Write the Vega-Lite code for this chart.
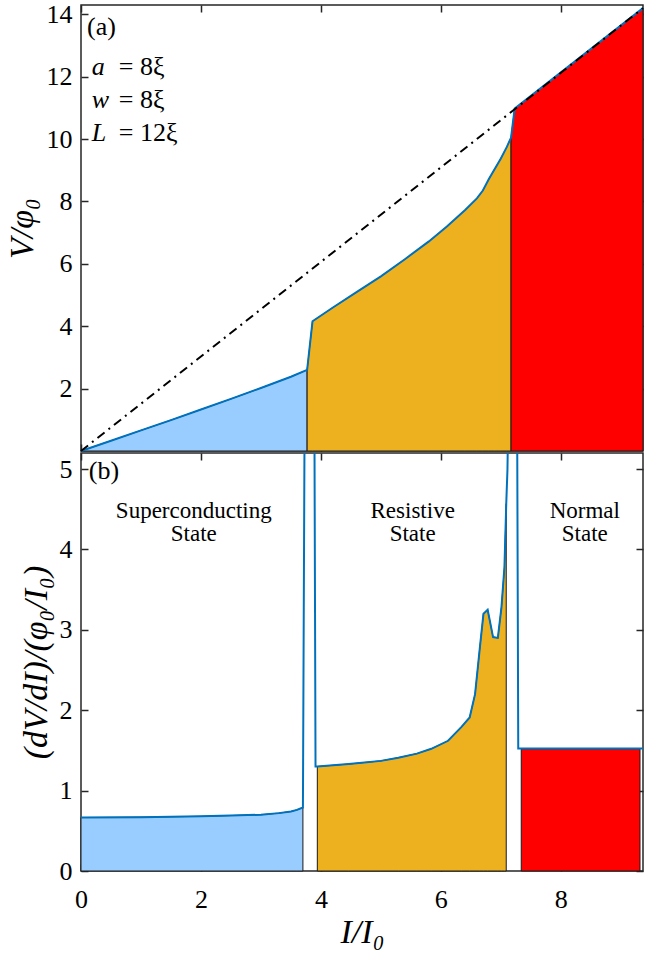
{
  "$schema": "https://vega.github.io/schema/vega-lite/v6.json",
  "background": "white",
  "padding": {"left": 4, "top": 0, "right": 2, "bottom": 0},
  "spacing": 2,
  "bounds": "flush",
  "config": {
    "view": {"stroke": "#262626", "strokeWidth": 1.5},
    "font": "Liberation Serif",
    "axis": {
      "grid": false, "domain": false, "tickColor": "#262626", "tickWidth": 1.5, "tickSize": -7,
      "labelFont": "Liberation Serif", "labelFontSize": 26, "labelColor": "black", "labelPadding": 16, "labelFlush": false,
      "titleFont": "Liberation Serif", "titleFontStyle": "italic", "titleFontWeight": "normal",
      "titleFontSize": 34, "titleColor": "black"
    }
  },
  "datasets": {
    "topAreas": [
      {"region": "sc", "I": 0, "V": 0}, {"region": "sc", "I": 0.5, "V": 0.33}, {"region": "sc", "I": 1, "V": 0.66},
      {"region": "sc", "I": 1.5, "V": 0.99}, {"region": "sc", "I": 2, "V": 1.33}, {"region": "sc", "I": 2.5, "V": 1.67},
      {"region": "sc", "I": 3, "V": 2.02}, {"region": "sc", "I": 3.5, "V": 2.38}, {"region": "sc", "I": 3.77, "V": 2.6},
      {"region": "res", "I": 3.77, "V": 2.6}, {"region": "res", "I": 3.86, "V": 4.16}, {"region": "res", "I": 4.2, "V": 4.6},
      {"region": "res", "I": 4.6, "V": 5.1}, {"region": "res", "I": 5.0, "V": 5.6}, {"region": "res", "I": 5.4, "V": 6.15},
      {"region": "res", "I": 5.8, "V": 6.72}, {"region": "res", "I": 6.1, "V": 7.2}, {"region": "res", "I": 6.4, "V": 7.72},
      {"region": "res", "I": 6.6, "V": 8.1}, {"region": "res", "I": 6.7, "V": 8.35}, {"region": "res", "I": 6.8, "V": 8.72},
      {"region": "res", "I": 6.9, "V": 9.05}, {"region": "res", "I": 7.0, "V": 9.38}, {"region": "res", "I": 7.1, "V": 9.75},
      {"region": "res", "I": 7.17, "V": 10.05},
      {"region": "norm", "I": 7.17, "V": 10.05}, {"region": "norm", "I": 7.23, "V": 10.98}, {"region": "norm", "I": 9.37, "V": 14.2}
    ],
    "ohm": [{"I": 0, "V": 0}, {"I": 9.37, "V": 14.2}],
    "topItalic": [
      {"I": 0.18, "V": 12.3, "t": "a"},
      {"I": 0.18, "V": 11.25, "t": "w"},
      {"I": 0.18, "V": 10.2, "t": "L"}
    ],
    "topNormal": [
      {"I": 0.1, "V": 13.6, "t": "(a)"},
      {"I": 0.63, "V": 12.3, "t": "= 8ξ"},
      {"I": 0.63, "V": 11.25, "t": "= 8ξ"},
      {"I": 0.63, "V": 10.2, "t": "= 12ξ"}
    ],
    "botAreas": [
      {"region": "sc", "I": 0, "R": 0.665}, {"region": "sc", "I": 1, "R": 0.67}, {"region": "sc", "I": 2, "R": 0.68},
      {"region": "sc", "I": 2.5, "R": 0.69}, {"region": "sc", "I": 3, "R": 0.7}, {"region": "sc", "I": 3.3, "R": 0.72},
      {"region": "sc", "I": 3.5, "R": 0.74}, {"region": "sc", "I": 3.6, "R": 0.76}, {"region": "sc", "I": 3.7, "R": 0.79},
      {"region": "res", "I": 3.94, "R": 1.3}, {"region": "res", "I": 4.46, "R": 1.33}, {"region": "res", "I": 5.0, "R": 1.37},
      {"region": "res", "I": 5.29, "R": 1.41}, {"region": "res", "I": 5.6, "R": 1.46}, {"region": "res", "I": 5.84, "R": 1.52},
      {"region": "res", "I": 6.12, "R": 1.62}, {"region": "res", "I": 6.34, "R": 1.79}, {"region": "res", "I": 6.48, "R": 1.91},
      {"region": "res", "I": 6.57, "R": 2.2}, {"region": "res", "I": 6.65, "R": 2.78}, {"region": "res", "I": 6.71, "R": 3.2},
      {"region": "res", "I": 6.78, "R": 3.25}, {"region": "res", "I": 6.87, "R": 2.91}, {"region": "res", "I": 6.95, "R": 2.9},
      {"region": "res", "I": 7.01, "R": 3.28}, {"region": "res", "I": 7.06, "R": 3.78}, {"region": "res", "I": 7.09, "R": 4.57},
      {"region": "norm", "I": 7.34, "R": 1.52}, {"region": "norm", "I": 9.32, "R": 1.52}
    ],
    "botLine": [
      {"I": 0, "R": 0.665}, {"I": 1, "R": 0.67}, {"I": 2, "R": 0.68}, {"I": 2.5, "R": 0.69}, {"I": 3, "R": 0.7},
      {"I": 3.3, "R": 0.72}, {"I": 3.5, "R": 0.74}, {"I": 3.6, "R": 0.76}, {"I": 3.7, "R": 0.79},
      {"I": 3.73, "R": 6}, {"I": 3.89, "R": 6}, {"I": 3.91, "R": 1.3},
      {"I": 3.94, "R": 1.3}, {"I": 4.46, "R": 1.33}, {"I": 5.0, "R": 1.37}, {"I": 5.29, "R": 1.41}, {"I": 5.6, "R": 1.46},
      {"I": 5.84, "R": 1.52}, {"I": 6.12, "R": 1.62}, {"I": 6.34, "R": 1.79}, {"I": 6.48, "R": 1.91}, {"I": 6.57, "R": 2.2},
      {"I": 6.65, "R": 2.78}, {"I": 6.71, "R": 3.2}, {"I": 6.78, "R": 3.25}, {"I": 6.87, "R": 2.91}, {"I": 6.95, "R": 2.9},
      {"I": 7.01, "R": 3.28}, {"I": 7.06, "R": 3.78}, {"I": 7.09, "R": 4.57}, {"I": 7.11, "R": 4.99},
      {"I": 7.13, "R": 6}, {"I": 7.27, "R": 6}, {"I": 7.29, "R": 1.525}, {"I": 9.37, "R": 1.525}
    ],
    "botText": [
      {"I": 1.88, "R": 4.39, "t": "Superconducting\nState"},
      {"I": 5.53, "R": 4.39, "t": "Resistive\nState"},
      {"I": 8.4, "R": 4.39, "t": "Normal\nState"}
    ]
  },
  "vconcat": [
    {
      "width": 562, "height": 446,
      "layer": [
        {
          "data": {"name": "topAreas"},
          "mark": {"type": "area", "stroke": "#1a1a1a", "strokeWidth": 1},
          "encoding": {
            "x": {"field": "I", "type": "quantitative", "scale": {"domain": [0, 9.37], "nice": false, "zero": false},
                  "axis": {"orient": "bottom", "labels": false, "title": null, "values": [0, 2, 4, 6, 8]}},
            "y": {"field": "V", "type": "quantitative", "stack": null, "scale": {"domain": [0, 14.3], "nice": false},
                  "axis": {"orient": "left", "values": [2, 4, 6, 8, 10, 12, 14], "title": "V/φ₀", "titlePadding": 7}},
            "color": {"field": "region", "type": "nominal", "legend": null,
                      "scale": {"domain": ["sc", "res", "norm"], "range": ["#99CCFF", "#EDB120", "#FF0000"]}}
          }
        },
        {
          "data": {"name": "topAreas"},
          "mark": {"type": "line", "color": "#0072BD", "strokeWidth": 2},
          "encoding": {
            "x": {"field": "I", "type": "quantitative", "scale": {"domain": [0, 9.37], "nice": false, "zero": false},
                  "axis": {"orient": "top", "labels": false, "title": null, "values": [0, 2, 4, 6, 8]}},
            "y": {"field": "V", "type": "quantitative", "scale": {"domain": [0, 14.3], "nice": false},
                  "axis": {"orient": "right", "labels": false, "title": null, "values": [2, 4, 6, 8, 10, 12, 14]}}
          }
        },
        {
          "data": {"name": "ohm"},
          "mark": {"type": "line", "color": "black", "strokeWidth": 2, "strokeDash": [9, 5, 2, 5]},
          "encoding": {
            "x": {"field": "I", "type": "quantitative", "axis": null},
            "y": {"field": "V", "type": "quantitative", "axis": null}
          }
        },
        {
          "data": {"name": "topNormal"},
          "mark": {"type": "text", "align": "left", "baseline": "middle", "fontSize": 26, "font": "Liberation Serif", "color": "black"},
          "encoding": {
            "x": {"field": "I", "type": "quantitative", "axis": null},
            "y": {"field": "V", "type": "quantitative", "axis": null},
            "text": {"field": "t"}
          }
        },
        {
          "data": {"name": "topItalic"},
          "mark": {"type": "text", "align": "left", "baseline": "middle", "fontSize": 26, "fontStyle": "italic", "font": "Liberation Serif", "color": "black"},
          "encoding": {
            "x": {"field": "I", "type": "quantitative", "axis": null},
            "y": {"field": "V", "type": "quantitative", "axis": null},
            "text": {"field": "t"}
          }
        }
      ],
      "resolve": {"axis": {"x": "independent", "y": "independent"}}
    },
    {
      "width": 562, "height": 418,
      "layer": [
        {
          "data": {"name": "botAreas"},
          "mark": {"type": "area", "stroke": "#1a1a1a", "strokeWidth": 1},
          "encoding": {
            "x": {"field": "I", "type": "quantitative", "scale": {"domain": [0, 9.37], "nice": false, "zero": false},
                  "axis": {"orient": "bottom", "values": [0, 2, 4, 6, 8], "title": "I/I₀", "labelPadding": 22, "titlePadding": 3}},
            "y": {"field": "R", "type": "quantitative", "stack": null, "scale": {"domain": [0, 5.2], "nice": false},
                  "axis": {"orient": "left", "values": [0, 1, 2, 3, 4, 5], "title": "(dV/dI)/(φ₀/I₀)", "titlePadding": 6}},
            "color": {"field": "region", "type": "nominal", "legend": null,
                      "scale": {"domain": ["sc", "res", "norm"], "range": ["#99CCFF", "#EDB120", "#FF0000"]}}
          }
        },
        {
          "data": {"name": "botLine"},
          "mark": {"type": "line", "color": "#0072BD", "strokeWidth": 2, "clip": true},
          "encoding": {
            "x": {"field": "I", "type": "quantitative", "scale": {"domain": [0, 9.37], "nice": false, "zero": false},
                  "axis": {"orient": "top", "labels": false, "title": null, "values": [0, 2, 4, 6, 8]}},
            "y": {"field": "R", "type": "quantitative", "scale": {"domain": [0, 5.2], "nice": false},
                  "axis": {"orient": "right", "labels": false, "title": null, "values": [0, 1, 2, 3, 4, 5]}}
          }
        },
        {
          "data": {"values": [{"I": 0.13, "R": 4.97, "t": "(b)"}]},
          "mark": {"type": "text", "align": "left", "baseline": "middle", "fontSize": 26, "font": "Liberation Serif", "color": "black"},
          "encoding": {
            "x": {"field": "I", "type": "quantitative", "axis": null},
            "y": {"field": "R", "type": "quantitative", "axis": null},
            "text": {"field": "t"}
          }
        },
        {
          "data": {"name": "botText"},
          "mark": {"type": "text", "align": "center", "baseline": "alphabetic", "fontSize": 23, "lineHeight": 23, "lineBreak": "\n", "font": "Liberation Serif", "color": "black"},
          "encoding": {
            "x": {"field": "I", "type": "quantitative", "axis": null},
            "y": {"field": "R", "type": "quantitative", "axis": null},
            "text": {"field": "t"}
          }
        }
      ],
      "resolve": {"axis": {"x": "independent", "y": "independent"}}
    }
  ]
}
